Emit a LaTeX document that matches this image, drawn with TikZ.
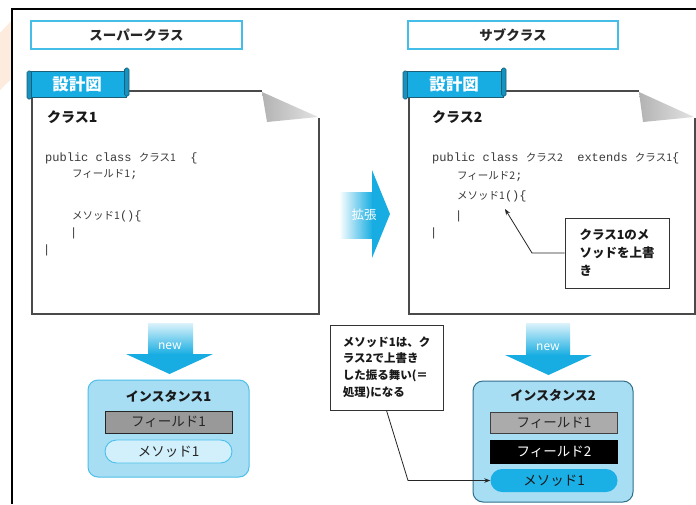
\documentclass[tikz,border=0pt]{standalone}
\usepackage{fontspec}
\setmainfont{Noto Sans CJK JP}
\newfontfamily\cjk{Noto Sans CJK JP}
\newfontfamily\codefont{Liberation Mono}
\usetikzlibrary{arrows.meta}
\definecolor{cyanA}{HTML}{17ADE2}
\definecolor{cyanB}{HTML}{45BDE9}
\definecolor{instfill}{HTML}{A8DEF4}
\definecolor{instline}{HTML}{4CBFEA}
\definecolor{instlineB}{HTML}{2F6F8C}
\definecolor{tabline}{HTML}{1E5F78}
\definecolor{paperline}{HTML}{4A4A4A}
\definecolor{peach}{HTML}{FDEBDD}
\definecolor{codegray}{HTML}{3A3A3A}
\definecolor{pillA}{HTML}{D2F0FB}
\definecolor{pillB}{HTML}{1AAFE5}
\newcommand\jcode[1]{{\cjk\fontsize{10.5}{12}\selectfont #1}}
\tikzset{
  hdrbox/.style={draw=cyanB, line width=1.3pt, minimum width=211pt, minimum height=28pt,
    font=\fontsize{13.5}{15}\selectfont\bfseries, text=black!85, inner sep=0pt},
  tabbody/.style={fill=cyanA, draw=tabline, line width=0.8pt},
  tabroll/.style={fill=cyanA!85!black, draw=tabline, line width=0.7pt, rounded corners=1.5pt},
  tabtext/.style={text=white, font=\fontsize{16.5}{18}\selectfont\bfseries, inner sep=0pt},
  paperedge/.style={draw=paperline, line width=1.1pt},
  titletext/.style={anchor=west, inner sep=0pt, font=\fontsize{14}{15}\selectfont\bfseries, text=black!90},
  codeline/.style={anchor=base west, inner sep=0pt, text=codegray, font=\codefont\fontsize{12}{14}\selectfont},
  instbox/.style={fill=instfill, rounded corners=10pt, line width=1pt},
  insttitle/.style={inner sep=0pt, font=\fontsize{13}{14}\selectfont\bfseries, text=black!90},
  fieldbox/.style={minimum width=127pt, inner sep=0pt, line width=1pt, font=\fontsize{13.5}{15}\selectfont},
  methodbox/.style={minimum width=127pt, minimum height=23pt, inner sep=0pt, rounded corners=11.5pt, font=\fontsize{13.5}{15}\selectfont},
  callout/.style={draw=black!80, line width=0.9pt, fill=white, align=left, font=\bfseries, text=black!90, inner sep=0pt},
  conn/.style={draw=black!85, line width=0.8pt},
  arrowtext/.style={text=white, inner sep=0pt},
}
\begin{document}
\begin{tikzpicture}[x=1pt,y=-1pt]
\useasboundingbox (0,0) rectangle (696,504);
\fill[white] (0,0) rectangle (696,504);
% faint background decoration
\fill[peach] (0,33) -- (12,20) -- (12,78) -- (0,90) -- cycle;
% outer frame
\draw[line width=1.2pt] (12,504) -- (12,9) -- (696,9);

% headers
\node[hdrbox] (hdr1) at (136.5,35) {スーパークラス};
\node[hdrbox, minimum width=210pt] (hdr2) at (513,35) {サブクラス};

% ---------- paper 1 ----------
\fill[white] (32,91) -- (262,91) -- (319,118) -- (319,314) -- (32,314) -- cycle;
\draw[paperedge] (262,91) -- (32,91) -- (32,314) -- (319,314) -- (319,118);
\shade[left color=gray!60, right color=gray!22] (262,92) -- (318,117) -- (267,122) -- cycle;
\draw[tabbody] (30,71) rectangle (126,97);
\draw[tabroll] (27,71) rectangle (31.5,99);
\draw[tabroll] (124.5,68) rectangle (129,96);
\node[tabtext] (tab1) at (77,84) {設計図};
\node[titletext] (ttl1) at (47,117) {クラス1};
\node[codeline] (c1a) at (45,161) {public class \jcode{クラス1}\ \ \{};
\node[codeline] (c1b) at (72,177) {\jcode{フィールド1};};
\node[codeline] (c1c) at (72,219) {\jcode{メソッド1}()\{};
\node[codeline] (c1d) at (70,236) {|};
\node[codeline] (c1e) at (43,253) {|};

% ---------- paper 2 ----------
\fill[white] (409,91) -- (639,91) -- (695,118) -- (695,314) -- (409,314) -- cycle;
\draw[paperedge] (639,91) -- (409,91) -- (409,314) -- (695,314) -- (695,118);
\shade[left color=gray!60, right color=gray!22] (639,92) -- (694,117) -- (643,122) -- cycle;
\draw[tabbody] (406,71) rectangle (503,97);
\draw[tabroll] (403,71) rectangle (407.5,99);
\draw[tabroll] (501.5,68) rectangle (506,96);
\node[tabtext] (tab2) at (454,84) {設計図};
\node[titletext] (ttl2) at (432,117) {クラス2};
\node[codeline] (c2a) at (432,161) {public class \jcode{クラス2}\ \ extends \jcode{クラス1}\{};
\node[codeline] (c2b) at (457,179) {\jcode{フィールド2};};
\node[codeline] (c2c) at (457,199) {\jcode{メソッド1}(){\{}};
\node[codeline] (c2d) at (455,219) {|};
\node[codeline] (c2e) at (430,236) {|};

% callout 1
\node[callout, minimum width=104pt, minimum height=70pt, font=\fontsize{12.5}{18}\selectfont\bfseries] (co1) at (617,253) {クラス1のメ\\ソッドを上書\\き};
\coordinate (tgt1) at (505,209);
\draw[conn, -{Stealth[length=6pt,width=4.5pt]}] (co1.west) -- (532,253) -- (tgt1);

% ---------- 拡張 arrow ----------
\shade[left color=cyanA!3, right color=cyanA] (340,192) rectangle (372.5,238);
\fill[cyanA] (372,170) -- (390,214) -- (372,258) -- cycle;
\node[arrowtext, font=\fontsize{12.5}{14}\selectfont] (ext) at (364,215) {拡張};

% ---------- new arrows ----------
\shade[top color=cyanA!15, bottom color=cyanA] (148,323) rectangle (193,354.5);
\fill[cyanA] (126,354) -- (213,354) -- (169.5,374) -- cycle;
\node[arrowtext, font=\fontsize{12}{13}\selectfont] (new1) at (170,346) {new};

\shade[top color=cyanA!15, bottom color=cyanA] (526,323) rectangle (570,355.5);
\fill[cyanA] (505,355) -- (592,355) -- (548.5,375) -- cycle;
\node[arrowtext, font=\fontsize{12}{13}\selectfont] (new2) at (548,347) {new};

% ---------- instance 1 ----------
\node[instbox, draw=instline, minimum width=161pt, minimum height=97pt] (inst1) at (168.5,428.5) {};
\node[insttitle] (it1) at (168.5,396) {インスタンス1};
\node[fieldbox, fill=black!40, draw=black!85, minimum height=22pt, text=black!85] (f11) at (168.5,422) {フィールド1};
\node[methodbox, fill=pillA, draw=instline, line width=0.9pt, text=black!85] (m1) at (168.5,451.5) {メソッド1};

% ---------- instance 2 ----------
\node[instbox, draw=instlineB, minimum width=160pt, minimum height=121pt] (inst2) at (553,441.5) {};
\node[insttitle] (it2) at (553,395) {インスタンス2};
\node[fieldbox, fill=black!33, draw=black!75, minimum height=21pt, text=black!85] (f21) at (554,422.5) {フィールド1};
\node[fieldbox, fill=black, draw=black, minimum height=23pt, text=white] (f22) at (554,451.5) {フィールド2};
\node[methodbox, fill=pillB, text=black!90] (m2) at (554,480.5) {メソッド1};

% callout 2
\node[callout, minimum width=113pt, minimum height=85pt, font=\fontsize{11.5}{16.7}\selectfont\bfseries] (co2) at (386.5,367.5) {メソッド1は、ク\\ラス2で上書き\\した振る舞い(＝\\処理)になる};
\draw[conn, -{Stealth[length=6pt,width=4.5pt]}] (co2.south) -- (408,480.5) -- (m2.west);
\end{tikzpicture}
\end{document}
